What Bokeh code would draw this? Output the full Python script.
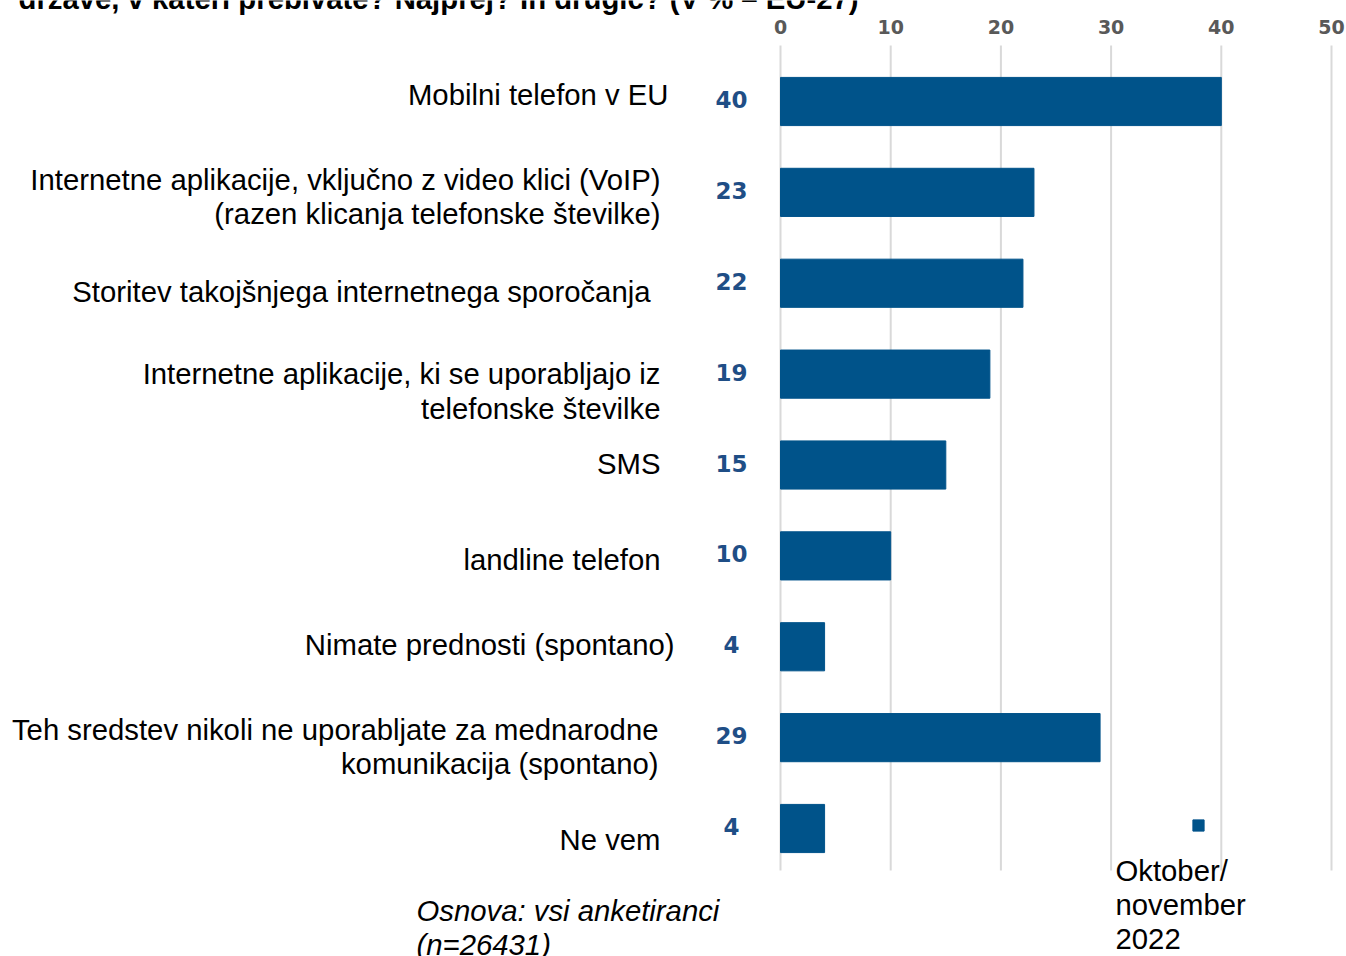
from bokeh.plotting import figure
from bokeh.models import Range1d, Label, Legend, LegendItem, ColumnDataSource
from bokeh.core.properties import value
from bokeh.embed import file_html
from bokeh.resources import INLINE

# ---- data ----
categories = [
    "Mobilni telefon v EU",
    "Internetne aplikacije, vključno z video klici (VoIP)\n(razen klicanja telefonske številke)",
    "Storitev takojšnjega internetnega sporočanja",
    "Internetne aplikacije, ki se uporabljajo iz\ntelefonske številke",
    "SMS",
    "landline telefon",
    "Nimate prednosti (spontano)",
    "Teh sredstev nikoli ne uporabljate za mednarodne\nkomunikacija (spontano)",
    "Ne vem",
]
values = [40, 23, 22, 19, 15, 10, 4, 29, 4]
ticks = [0, 10, 20, 30, 40, 50]
tick_labels = ["0", "10", "20", "30", "40", "50"]
title_text = "države, v kateri prebivate? Najprej? In drugič? (V % – EU-27)"
legend_text = "Oktober/\nnovember\n2022"
footnote_text = "Osnova: vsi anketiranci\n(n=26431)"

# ---- layout / style ----
W, H = 1346, 956
ZERO_PX, PPU_X = 780.0, 11.02        # canvas px of value 0, px per unit
ROW0_PX, PPU_Y = 101.0, 90.875       # canvas px of first row, px per row
BAR = "#00538A"
FONT = "Liberation Sans"
FS = "29.3px"
LH = 1.045
label_right = [668, 660, 650, 660, 660, 660, 674, 658, 660]   # canvas px, right edges
label_dy = [-7, 4, 8, 17, -2, 4, -2, 9, 11]                    # px nudges (down)

def px_x(cx):
    return (cx - ZERO_PX) / PPU_X

def px_y(cy):
    return (cy - ROW0_PX) / PPU_Y

p = figure(width=W, height=H, output_backend="svg", toolbar_location=None,
           x_range=Range1d(px_x(0), px_x(W)), y_range=Range1d(px_y(H), px_y(0)),
           x_axis_location=None, y_axis_location=None,
           min_border_left=0, min_border_right=0, min_border_top=0,
           min_border_bottom=0, outline_line_color=None,
           background_fill_color="white", border_fill_color="white")
p.xgrid.grid_line_color = None
p.ygrid.grid_line_color = None

# value axis: grid lines and tick labels at the top
p.segment(x0=ticks, x1=ticks, y0=px_y(45), y1=px_y(870),
          line_color="#d9d9d9", line_width=2)
p.text(x=ticks, y=[px_y(26)] * len(ticks), text=tick_labels,
       text_align="center", text_baseline="middle",
       text_font=value("DejaVu Sans"), text_font_style="bold",
       text_font_size="19px", text_color="#595959")

idx = list(range(len(categories)))
src = ColumnDataSource(dict(y=idx, v=values, t=[str(v) for v in values]))
bars = p.hbar(y="y", right="v", left=0, height=0.53, source=src,
              fill_color=BAR, line_color=BAR)

p.text(x=0, y="y", text="t", source=src, x_offset=-49, y_offset=-2,
       text_align="center", text_baseline="middle",
       text_font=value("DejaVu Sans"), text_font_style="bold",
       text_font_size="23px", text_color="#1F4E86")

for i, (c, r, dy) in enumerate(zip(categories, label_right, label_dy)):
    p.add_layout(Label(x=px_x(r), y=i, y_offset=-dy, text=c, text_align="right",
                       text_baseline="middle", text_font=FONT,
                       text_font_size=FS, text_color="black",
                       text_line_height=LH))

# title (cut off at the top as in the original)
p.add_layout(Label(x=px_x(18), y=px_y(-2), text=title_text, text_align="left",
                   text_baseline="alphabetic", text_font=FONT,
                   text_font_style="bold", text_font_size="29.3px",
                   text_color="black"))

# footnote
p.add_layout(Label(x=px_x(416), y=px_y(893), text=footnote_text, text_align="left",
                   text_baseline="top", text_font=FONT, text_font_style="italic",
                   text_font_size=FS, text_color="black",
                   text_line_height=LH))

# legend swatch + text
legend = Legend(items=[LegendItem(label=" ", renderers=[bars])],
                location=(1191, H - 832),
                glyph_width=14, glyph_height=14, label_height=14,
                label_width=0, label_standoff=0, label_text_font_size="1px",
                padding=0, margin=0, spacing=0,
                border_line_color=None, background_fill_alpha=0)
p.add_layout(legend)

p.add_layout(Label(x=px_x(1115), y=px_y(853), text=legend_text, text_align="left",
                   text_baseline="top", text_font=FONT, text_font_size=FS,
                   text_color="black", text_line_height=LH))

open("out.html", "w").write(file_html(p, INLINE))
